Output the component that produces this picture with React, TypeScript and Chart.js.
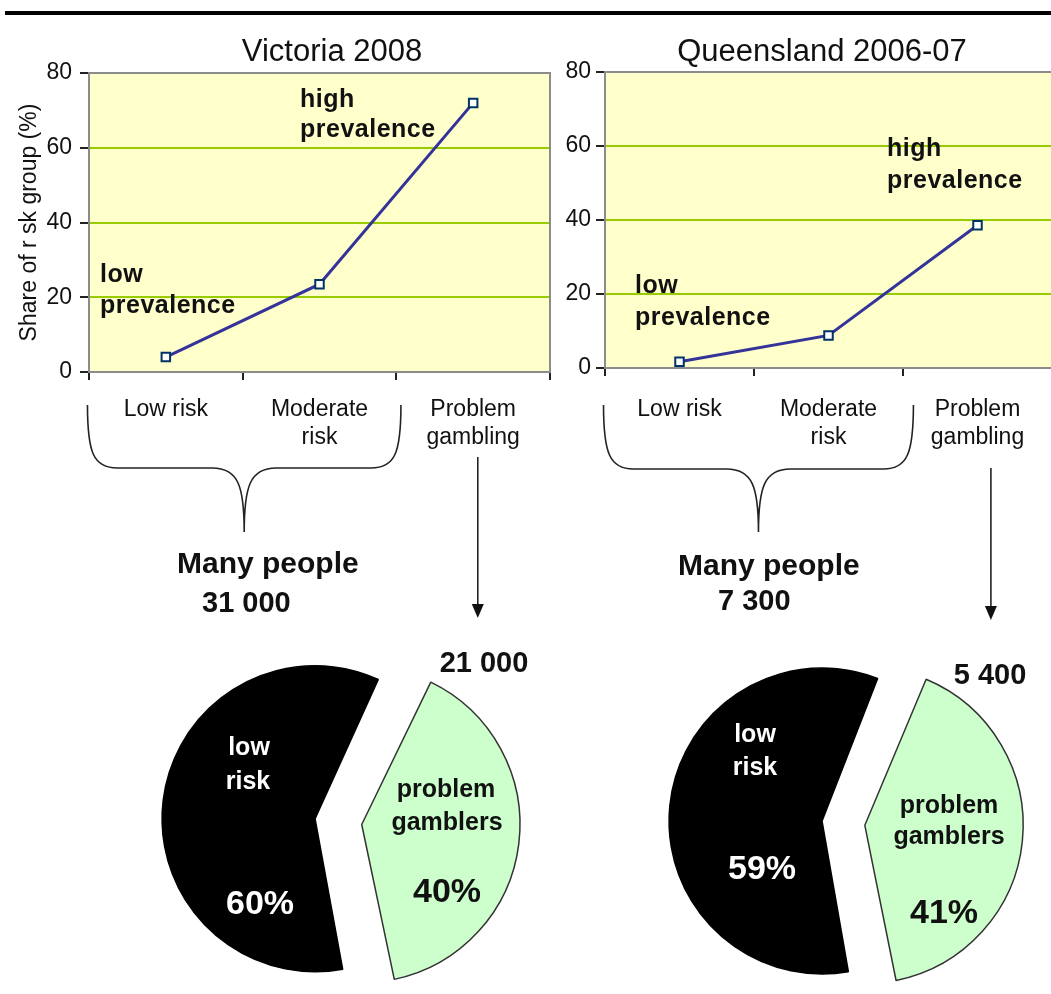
import React, { useEffect, useRef } from 'react';
import { Chart, registerables } from 'chart.js';

Chart.register(...registerables);

const FONT = '"Liberation Sans", Arial, Helvetica, sans-serif';

// ---------------- data ----------------
const riskGroups: string[][] = [['Low risk'], ['Moderate', 'risk'], ['Problem', 'gambling']];
const yTickValues = [0, 20, 40, 60, 80];
const victoriaShare = [4, 23.5, 72];
const queenslandShare = [1.7, 8.8, 38.6];
const pieCategories = ['low risk', 'problem gamblers'];
const victoriaPie = [60, 40];
const queenslandPie = [59, 41];
const victoriaPeople = ['31 000', '21 000'];
const queenslandPeople = ['7 300', '5 400'];
const panelTitles = ['Victoria 2008', 'Queensland 2006-07'];
const yAxisTitle = 'Share of r sk group (%)';
const highNote = ['high', 'prevalence'];
const lowNote = ['low', 'prevalence'];
const manyPeopleLabel = 'Many people';

// ---------------- layout configs ----------------
type Pt = [number, number];
type LineCfg = {
  title: string;
  titleX: number;
  values: number[];
  left: number;
  width: number;
  height: number;
  padTop: number;
  padRight: number;
  axisW: number;
  plotBottom: number;
  tickPad: number;
  yTickPad: number;
  yTitle: string | null;
  highPos: Pt[];
  lowPos: Pt[];
  brace: [number, number];
  braceY: [number, number, number];
  arrowIdx: number;
  arrowY: [number, number];
  many: Pt;
  count: string;
  countPos: Pt;
};

const victoriaLine: LineCfg = {
  title: panelTitles[0],
  titleX: 332,
  values: victoriaShare,
  left: 0,
  width: 560,
  height: 630,
  padTop: 73,
  padRight: 10,
  axisW: 89,
  plotBottom: 372,
  tickPad: 16,
  yTickPad: 8,
  yTitle: yAxisTitle,
  highPos: [[211, 34], [211, 64]],
  lowPos: [[11, 209], [11, 240]],
  brace: [-0.51, 1.53],
  braceY: [405, 468, 532],
  arrowIdx: 2.03,
  arrowY: [457, 618],
  many: [177, 573],
  count: victoriaPeople[0],
  countPos: [202, 612],
};

const queenslandLine: LineCfg = {
  title: panelTitles[1],
  titleX: 267,
  values: queenslandShare,
  left: 555,
  width: 505,
  height: 630,
  padTop: 72,
  padRight: 6,
  axisW: 50,
  plotBottom: 368,
  tickPad: 20,
  yTickPad: 5,
  yTitle: null,
  highPos: [[282, 84], [282, 116]],
  lowPos: [[30, 221], [30, 253]],
  brace: [-0.51, 1.57],
  braceY: [405, 469, 532],
  arrowIdx: 2.09,
  arrowY: [468, 620],
  many: [123, 575],
  count: queenslandPeople[0],
  countPos: [163, 610],
};

type PieCfg = {
  values: number[];
  left: number;
  top: number;
  radius: number;
  rotation: number;
  offsets: number[];
  count: string;
  pos: { low: Pt; risk: Pt; pctA: Pt; problem: Pt; gamblers: Pt; pctB: Pt; count: Pt };
};

const PIE_W = 440;
const PIE_H = 362;

const victoriaPieCfg: PieCfg = {
  values: victoriaPie,
  left: 325 - PIE_W / 2,
  top: 639,
  radius: 143,
  rotation: 169,
  offsets: [40, 148],
  count: victoriaPeople[1],
  pos: {
    low: [-76, -72],
    risk: [-77, -38],
    pctA: [-65, 85],
    problem: [121, -30],
    gamblers: [122, 3],
    pctB: [122, 73],
    count: [159, -156],
  },
};

const queenslandPieCfg: PieCfg = {
  values: queenslandPie,
  left: 832 - PIE_W / 2,
  top: 641,
  radius: 143,
  rotation: 169.5,
  offsets: [40, 132],
  count: queenslandPeople[1],
  pos: {
    low: [-77, -87],
    risk: [-77, -54],
    pctA: [-70, 48],
    problem: [117, -16],
    gamblers: [117, 15],
    pctB: [112, 92],
    count: [158, -146],
  },
};

// ---------------- line chart ----------------
function LineChart({ cfg }: { cfg: LineCfg }) {
  const ref = useRef<HTMLCanvasElement>(null);
  useEffect(() => {
    const decor = {
      id: 'decor',
      beforeDraw(chart: any) {
        const { ctx, chartArea: a } = chart;
        ctx.save();
        ctx.fillStyle = '#ffffcc';
        ctx.fillRect(a.left, a.top, a.right - a.left, a.bottom - a.top);
        ctx.restore();
      },
      beforeDatasetsDraw(chart: any) {
        const { ctx, chartArea: a } = chart;
        ctx.save();
        ctx.strokeStyle = '#8c8c8c';
        ctx.lineWidth = 2;
        ctx.strokeRect(a.left, a.top, a.right - a.left, a.bottom - a.top);
        ctx.restore();
      },
      afterDraw(chart: any) {
        const { ctx, chartArea: a } = chart;
        const xs = chart.scales.x;
        ctx.save();
        // title
        ctx.fillStyle = '#111';
        ctx.font = `31px ${FONT}`;
        ctx.textAlign = 'center';
        ctx.textBaseline = 'alphabetic';
        ctx.fillText(cfg.title, cfg.titleX, 61);
        // notes
        ctx.textAlign = 'left';
        ctx.font = `bold 25px ${FONT}`;
        (ctx as any).letterSpacing = '0.5px';
        highNote.forEach((t, i) => ctx.fillText(t, a.left + cfg.highPos[i][0], a.top + cfg.highPos[i][1]));
        lowNote.forEach((t, i) => ctx.fillText(t, a.left + cfg.lowPos[i][0], a.top + cfg.lowPos[i][1]));
        (ctx as any).letterSpacing = '0px';
        // brace
        const x0 = xs.getPixelForValue(cfg.brace[0]);
        const x1 = xs.getPixelForValue(cfg.brace[1]);
        const xm = (x0 + x1) / 2;
        const [yT, yH, yP] = cfg.braceY;
        ctx.strokeStyle = '#222';
        ctx.lineWidth = 1.6;
        ctx.beginPath();
        ctx.moveTo(x0, yT);
        ctx.bezierCurveTo(x0, yT + 48, x0 + 6, yH, x0 + 30, yH);
        ctx.lineTo(xm - 32, yH);
        ctx.bezierCurveTo(xm - 6, yH, xm, yH + 18, xm, yP);
        ctx.moveTo(xm, yP);
        ctx.bezierCurveTo(xm, yH + 18, xm + 6, yH, xm + 32, yH);
        ctx.lineTo(x1 - 30, yH);
        ctx.bezierCurveTo(x1 - 6, yH, x1, yT + 48, x1, yT);
        ctx.stroke();
        // arrow
        const ax = xs.getPixelForValue(cfg.arrowIdx);
        const [aT, aB] = cfg.arrowY;
        ctx.beginPath();
        ctx.moveTo(ax, aT);
        ctx.lineTo(ax, aB - 12);
        ctx.stroke();
        ctx.fillStyle = '#111';
        ctx.beginPath();
        ctx.moveTo(ax - 6, aB - 14);
        ctx.lineTo(ax + 6, aB - 14);
        ctx.lineTo(ax, aB);
        ctx.closePath();
        ctx.fill();
        // many people
        ctx.font = `bold 30px ${FONT}`;
        ctx.textAlign = 'left';
        ctx.fillText(manyPeopleLabel, cfg.many[0], cfg.many[1]);
        ctx.font = `bold 29px ${FONT}`;
        ctx.fillText(cfg.count, cfg.countPos[0], cfg.countPos[1]);
        ctx.restore();
      },
    };

    const chart = new Chart(ref.current!, {
      type: 'line',
      data: {
        labels: riskGroups as any,
        datasets: [
          {
            data: cfg.values,
            borderColor: '#333399',
            borderWidth: 3,
            tension: 0,
            pointStyle: 'rect',
            pointRadius: 6,
            pointBorderWidth: 2,
            pointBorderColor: '#003366',
            pointBackgroundColor: '#ffffff',
          },
        ],
      },
      options: {
        responsive: false,
        animation: false,
        layout: { padding: { top: cfg.padTop, right: cfg.padRight, left: 0, bottom: 0 } },
        plugins: { legend: { display: false }, tooltip: { enabled: false }, title: { display: false } },
        scales: {
          x: {
            offset: true,
            grid: {
              offset: true,
              drawOnChartArea: false,
              drawTicks: true,
              tickLength: 8,
              tickColor: '#222',
              lineWidth: 2,
            },
            border: { display: true, color: '#8c8c8c', width: 2 },
            ticks: {
              autoSkip: false,
              maxRotation: 0,
              minRotation: 0,
              padding: cfg.tickPad,
              color: '#111',
              font: { family: FONT, size: 23, lineHeight: 1.22 },
            },
            afterFit: (s: any) => {
              s.height = cfg.height - cfg.plotBottom;
            },
          } as any,
          y: {
            min: 0,
            max: 80,
            afterBuildTicks: (s: any) => {
              s.ticks = yTickValues.map((v) => ({ value: v }));
            },
            grid: {
              color: (c: any) => (c.tick && (c.tick.value === 0 || c.tick.value === 80) ? '#8c8c8c' : '#99cc00'),
              lineWidth: 2,
              tickLength: 9,
              tickColor: '#222',
            },
            border: { display: true, color: '#8c8c8c', width: 2 },
            ticks: {
              padding: cfg.yTickPad,
              color: '#111',
              font: { family: FONT, size: 23 },
            },
            title: {
              display: !!cfg.yTitle,
              text: cfg.yTitle || '',
              color: '#111',
              font: { family: FONT, size: 23 },
              padding: { top: 16, bottom: 0 },
            },
            afterFit: (s: any) => {
              s.width = cfg.axisW;
            },
          } as any,
        },
      },
      plugins: [decor],
    });
    return () => chart.destroy();
  }, [cfg]);
  return (
    <canvas
      ref={ref}
      width={cfg.width}
      height={cfg.height}
      style={{ position: 'absolute', left: cfg.left, top: 0, width: cfg.width, height: cfg.height }}
    />
  );
}

// ---------------- pie chart ----------------
function PieChart({ cfg }: { cfg: PieCfg }) {
  const ref = useRef<HTMLCanvasElement>(null);
  useEffect(() => {
    const labelsPlugin = {
      id: 'pieLabels',
      afterDraw(chart: any) {
        const { ctx } = chart;
        const arc = chart.getDatasetMeta(0).data[0];
        const cx = arc.x;
        const cy = arc.y;
        const p = cfg.pos;
        const [lowWord, riskWord] = pieCategories[0].split(' ');
        const [probWord, gambWord] = pieCategories[1].split(' ');
        const put = (t: string, pt: Pt, color: string, font: string) => {
          ctx.fillStyle = color;
          ctx.font = font;
          ctx.fillText(t, cx + pt[0], cy + pt[1]);
        };
        ctx.save();
        ctx.textAlign = 'center';
        ctx.textBaseline = 'middle';
        const word = `bold 25px ${FONT}`;
        const pct = `bold 34px ${FONT}`;
        put(lowWord, p.low, '#ffffff', word);
        put(riskWord, p.risk, '#ffffff', word);
        put(`${cfg.values[0]}%`, p.pctA, '#ffffff', pct);
        put(probWord, p.problem, '#111', word);
        put(gambWord, p.gamblers, '#111', word);
        put(`${cfg.values[1]}%`, p.pctB, '#111', pct);
        put(cfg.count, p.count, '#111', `bold 29px ${FONT}`);
        ctx.restore();
      },
    };
    const chart = new Chart(ref.current!, {
      type: 'pie',
      data: {
        labels: pieCategories,
        datasets: [
          {
            data: cfg.values,
            backgroundColor: ['#000000', '#ccffcc'],
            borderColor: ['#000000', '#333333'],
            borderWidth: 1.5,
            offset: cfg.offsets,
          } as any,
        ],
      },
      options: {
        responsive: false,
        animation: false,
        radius: cfg.radius,
        rotation: cfg.rotation,
        layout: { padding: 0 },
        plugins: { legend: { display: false }, tooltip: { enabled: false } },
      } as any,
      plugins: [labelsPlugin],
    });
    return () => chart.destroy();
  }, [cfg]);
  return (
    <canvas
      ref={ref}
      width={PIE_W}
      height={PIE_H}
      style={{ position: 'absolute', left: cfg.left, top: cfg.top, width: PIE_W, height: PIE_H }}
    />
  );
}

export default function App() {
  return (
    <div
      style={{
        position: 'absolute',
        left: 0,
        top: 0,
        width: 1051,
        height: 994,
        overflow: 'hidden',
        background: '#ffffff',
      }}
    >
      <div style={{ position: 'absolute', left: 5, top: 11, width: 1046, height: 4, background: '#000' }} />
      <LineChart cfg={victoriaLine} />
      <LineChart cfg={queenslandLine} />
      <PieChart cfg={victoriaPieCfg} />
      <PieChart cfg={queenslandPieCfg} />
    </div>
  );
}
